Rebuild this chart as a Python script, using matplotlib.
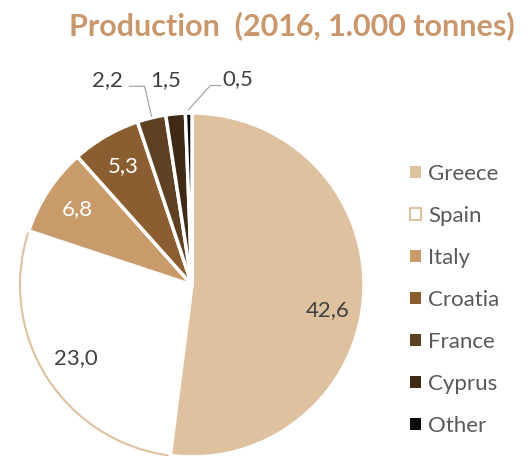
import numpy as np
import matplotlib
matplotlib.use("Agg")
import matplotlib.pyplot as plt

countries = ["Greece", "Spain", "Italy", "Croatia", "France", "Cyprus", "Other"]
production = [42.6, 23.0, 6.8, 5.3, 2.2, 1.5, 0.5]
colors = ["#DEC19F", "#FFFFFF", "#C99B6B", "#8B5E32", "#5E4023", "#3E2A15", "#0A0A0A"]
tan = "#DEC19F"

plt.rcParams["font.family"] = ["Lato", "DejaVu Sans"]

fig = plt.figure(figsize=(5.31, 4.58), dpi=100)
# pie centre ~ (192, 285) px, radius ~172 px
W, H = 531, 458
cx, cy, r = 192, 285, 172
ax = fig.add_axes([(cx - r) / W, (H - cy - r) / H, 2 * r / W, 2 * r / H])

wedges, _ = ax.pie(production, colors=colors, startangle=90, counterclock=False,
                   radius=1, wedgeprops=dict(edgecolor="white", linewidth=2.5))
ax.set_xlim(-1, 1)
ax.set_ylim(-1, 1)
ax.set_aspect("equal")
ax.axis("off")
wedges[1].set_edgecolor(tan)
wedges[1].set_linewidth(1.5)
wedges[1].set_zorder(0.5)

def lab(v):
    return f"{v:.1f}".replace(".", ",")

# inside labels (Excel nudges the big one a bit lower)
inside_col = ["#404040", "#404040", "white", "white"]
nudge = [-7, 0, 0, 0]
for i in range(4):
    w = wedges[i]
    a = np.deg2rad((w.theta1 + w.theta2) / 2 + nudge[i])
    ax.text(0.80 * np.cos(a), 0.80 * np.sin(a), lab(production[i]), ha="center", va="center",
            fontsize=16, color=inside_col[i])

# outside labels with leaders
out_pos = {4: (-0.494, 1.19), 5: (-0.151, 1.19), 6: (0.267, 1.20)}
for i, (tx, ty) in out_pos.items():
    w = wedges[i]
    a = np.deg2rad((w.theta1 + w.theta2) / 2)
    ex, ey = np.cos(a), np.sin(a)
    ax.text(tx, ty, lab(production[i]), ha="center", va="center", fontsize=16,
            color="#404040", clip_on=False)
    if i == 4:
        ax.plot([tx + 0.13, ex - 0.04, ex], [ty - 0.035, ty - 0.035, ey + 0.01],
                color="#A6A6A6", lw=0.9, clip_on=False)
    elif i == 6:
        ax.plot([tx - 0.1, tx - 0.16, ex], [ty - 0.04, ty - 0.04, ey + 0.02],
                color="#A6A6A6", lw=0.9, clip_on=False)

fig.text(0.55, 0.944, "Production  (2016, 1.000 tonnes)", ha="center", va="center",
         fontsize=22, fontweight="bold", color="#C9976B")

leg = fig.legend(wedges, countries, loc="upper left", bbox_to_anchor=(0.735, 0.686),
                 frameon=False, fontsize=16, labelcolor="#595959",
                 handlelength=0.5, handleheight=0.5, handletextpad=0.3,
                 labelspacing=0.99)
for h in leg.legend_handles:
    h.set_linewidth(0)
leg.legend_handles[1].set_edgecolor(tan)
leg.legend_handles[1].set_linewidth(1.5)

fig.savefig("out.png", dpi=100)
